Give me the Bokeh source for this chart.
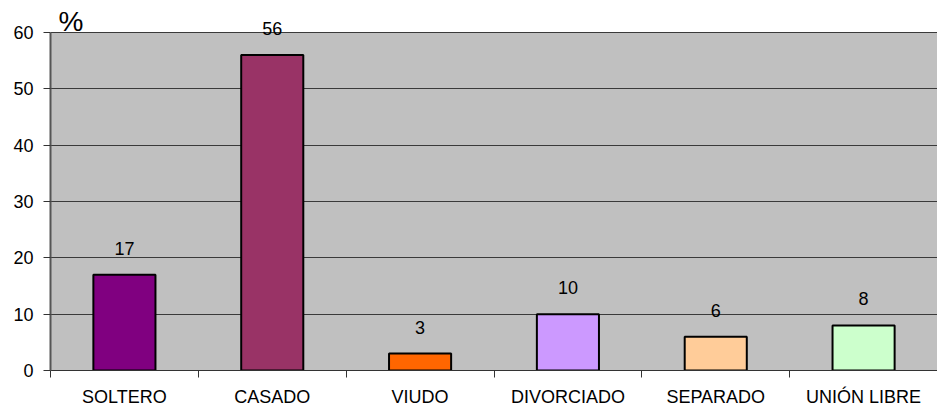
from bokeh.plotting import figure
from bokeh.models import FixedTicker, ColumnDataSource, Range1d
from bokeh.embed import file_html
from bokeh.resources import INLINE
from bokeh.core.properties import value

categories = ["SOLTERO", "CASADO", "VIUDO", "DIVORCIADO", "SEPARADO", "UNIÓN LIBRE"]
values = [17, 56, 3, 10, 6, 8]
colors = ["#800080", "#993366", "#FF6600", "#CC99FF", "#FFCC99", "#CCFFCC"]
y_ticks = [0, 10, 20, 30, 40, 50, 60]
y_max = 60
unit_label = "%"

xs = [i + 0.5 for i in range(len(categories))]
src = ColumnDataSource(dict(x=xs, top=values, color=colors,
                            label=[str(v) for v in values]))

FONT = "Liberation Sans"

H, W = 409, 937
BOTTOM = 38          # x-axis panel height
TOP60 = 32           # canvas y of the 60 line
frame_h = H - BOTTOM
y_end = y_max * frame_h / (frame_h - TOP60)

p = figure(width=W, height=H, output_backend="svg", toolbar_location=None,
           x_range=Range1d(0, len(categories)), y_range=Range1d(0, y_end),
           min_border_left=50, min_border_right=0, min_border_top=0,
           min_border_bottom=BOTTOM)
p.background_fill_color = "white"
p.border_fill_color = "white"
p.outline_line_color = None

# grey plot area 0..60
p.quad(left=[0], right=[len(categories)], bottom=[0], top=[y_max],
       fill_color="#C0C0C0", line_color=None, level="image")

p.vbar(x="x", top="top", width=0.42, bottom=0, fill_color="color",
       line_color="black", line_width=2, source=src)
p.text(x="x", y="top", text="label", source=src, text_align="center",
       text_baseline="bottom", y_offset=-20, text_font=value(FONT),
       text_font_size="18px", text_color="black")

# unit label
p.text(x=[0], y=[y_max], text=[unit_label], text_align="left",
       text_baseline="bottom", x_offset=8, y_offset=5,
       text_font=value(FONT), text_font_size="28px", text_color="black")

p.xgrid.grid_line_color = None
p.ygrid.grid_line_color = "#3a3a3a"
p.ygrid.grid_line_width = 1
p.ygrid.ticker = FixedTicker(ticks=y_ticks)

p.yaxis.ticker = FixedTicker(ticks=y_ticks)
p.yaxis.bounds = (0, y_max)
p.yaxis.axis_line_color = "#555555"
p.yaxis.axis_line_width = 2
p.yaxis.major_tick_line_color = "#333333"
p.yaxis.major_tick_in = 0
p.yaxis.major_tick_out = 7
p.yaxis.minor_tick_line_color = None
p.yaxis.major_label_standoff = 10
p.yaxis.major_label_text_font = FONT
p.yaxis.major_label_text_font_size = "18px"
p.yaxis.major_label_text_color = "black"

p.xaxis.ticker = FixedTicker(ticks=xs, minor_ticks=list(range(len(categories) + 1)))
p.xaxis.major_label_overrides = {x: c for x, c in zip(xs, categories)}
p.xaxis.axis_line_color = "#333333"
p.xaxis.axis_line_width = 1
p.xaxis.major_tick_line_color = None
p.xaxis.major_tick_in = 0
p.xaxis.major_tick_out = 0
p.xaxis.minor_tick_line_color = "#333333"
p.xaxis.minor_tick_in = 0
p.xaxis.minor_tick_out = 7
p.xaxis.major_label_standoff = 9
p.xaxis.major_label_text_font = FONT
p.xaxis.major_label_text_font_size = "18px"
p.xaxis.major_label_text_color = "black"

open("out.html", "w").write(file_html(p, INLINE))
